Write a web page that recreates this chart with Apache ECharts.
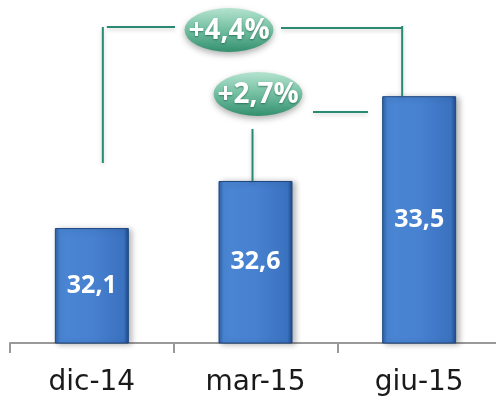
<!DOCTYPE html>
<html><head><meta charset="utf-8">
<script src="https://cdn.jsdelivr.net/npm/echarts@6/dist/echarts.min.js"></script>
<style>html,body{margin:0;padding:0;background:#fff}#c{width:496px;height:400px}</style>
</head><body><div id="c"></div>
<script>
const categories = ['dic-14', 'mar-15', 'giu-15'];
const values = [32.1, 32.6, 33.5];
const valueLabels = ['32,1', '32,6', '33,5'];
const changeLabels = ['+4,4%', '+2,7%'];

const chart = echarts.init(document.getElementById('c'), null, {renderer: 'canvas'});
const barColor = new echarts.graphic.LinearGradient(0, 0, 1, 0, [
  {offset: 0, color: '#2c5fa8'},
  {offset: 0.07, color: '#4a86d4'},
  {offset: 0.5, color: '#4781d0'},
  {offset: 0.93, color: '#3b72c0'},
  {offset: 1, color: '#1f4a8a'}
]);
chart.setOption({
  animation: false,
  grid: {left: 10, top: 2, bottom: 57, width: 491, outerBoundsMode: 'none', containLabel: false},
  xAxis: {
    type: 'category', data: categories,
    axisLine: {lineStyle: {color: '#999', width: 2}},
    axisTick: {show: true, length: 10, lineStyle: {color: '#999', width: 2}},
    axisLabel: {fontSize: 28, color: '#1a1a1a', fontFamily: 'DejaVu Sans', margin: 26}
  },
  yAxis: {
    type: 'value', min: 30.88, max: 34.5, show: false,
    splitLine: {show: false}
  },
  series: [{
    type: 'bar', barWidth: 74,
    data: values.map((v, i) => ({value: v, label: {formatter: valueLabels[i]}})),
    itemStyle: {color: barColor, borderColor: '#1d4680', borderWidth: 1,
      shadowBlur: 6, shadowOffsetX: 3, shadowOffsetY: 1, shadowColor: 'rgba(0,0,0,0.3)'},
    label: {show: true, position: 'inside', color: '#fff', fontSize: 25, fontWeight: 'bold',
      fontFamily: 'Open Sans'}
  }]
});

const px = i => chart.convertToPixel({xAxisIndex: 0, yAxisIndex: 0}, [i, values[i]]);
const p0 = px(0), p1 = px(1), p2 = px(2);
const lineStyle = {stroke: '#2a8a72', lineWidth: 2, shadowBlur: 4, shadowOffsetY: 2, shadowColor: 'rgba(0,0,0,0.2)'};
const bubbleFill = new echarts.graphic.LinearGradient(0, 0, 0, 1, [
  {offset: 0, color: '#b4e3cf'},
  {offset: 0.5, color: '#72bea0'},
  {offset: 1, color: '#33906f'}
]);
const y1 = 27, y2 = 112;
const b1 = {x: 229, y: 30}, b2 = {x: 258, y: 94};
function line(x1, ya, x2, yb) {
  return {type: 'polyline', shape: {points: [[x1, ya], [x2, yb]]}, style: lineStyle, z: 10};
}
function bubble(c, text) {
  return [
    {type: 'circle', shape: {cx: c.x, cy: c.y, r: 22}, scaleX: 2.02, originX: c.x, originY: c.y,
      style: {fill: bubbleFill, shadowBlur: 6, shadowOffsetY: 3, shadowColor: 'rgba(0,0,0,0.3)'}, z: 20},
    {type: 'text', x: c.x, y: c.y + 1, z: 21,
      style: {text: text, fill: '#fff', font: 'bold 28px "Open Sans"', align: 'center', verticalAlign: 'middle',
        textShadowBlur: 2, textShadowColor: 'rgba(0,60,40,0.5)', textShadowOffsetY: 1}}
  ];
}
const xl = p0[0] + 11, xr = p2[0] - 17, xm = p1[0] - 3;
chart.setOption({graphic: [
  line(xl, y1, xl, 163),
  line(xl + 4, y1, b1.x - 54, y1),
  line(b1.x + 52, y1 + 1, xr, y1 + 1),
  line(xr, y1 - 1, xr, p2[1]),
  line(xm, 129, xm, p1[1]),
  line(b2.x + 55, y2, 368, y2),
  ...bubble(b1, changeLabels[0]),
  ...bubble(b2, changeLabels[1])
]});
</script></body></html>
